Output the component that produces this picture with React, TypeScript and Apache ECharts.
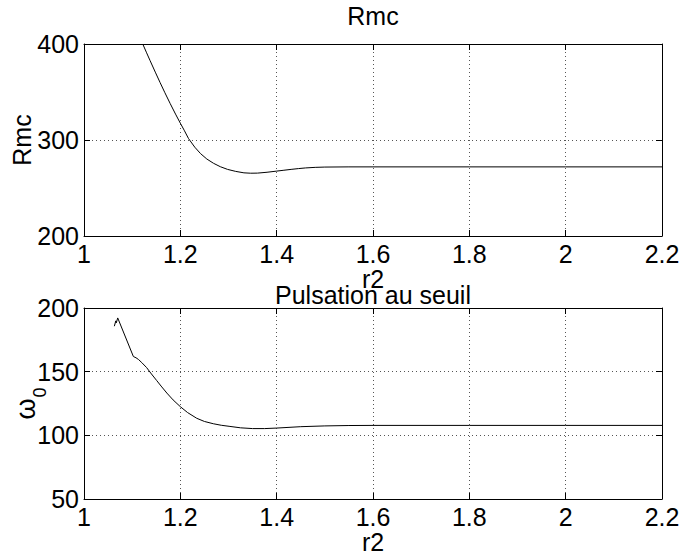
import React, { useEffect, useRef } from "react";
import * as echarts from "echarts";

// ---- data ----
const rmcX = [1.122, 1.13, 1.137, 1.148, 1.158, 1.168, 1.179, 1.19, 1.2, 1.208, 1.217, 1.23, 1.242, 1.255, 1.269, 1.283, 1.298, 1.315, 1.332, 1.346, 1.36, 1.38, 1.4, 1.415, 1.43, 1.445, 1.46, 1.48, 1.5, 1.55, 1.6, 1.8, 2.0, 2.2];
const rmcY = [400, 390.8, 382.9, 370.7, 359.8, 349.2, 337.9, 327.0, 317.5, 310.2, 301.5, 292.5, 285.8, 280.2, 275.7, 272.2, 269.4, 267.3, 265.8, 265.4, 265.5, 266.4, 267.6, 268.5, 269.4, 270.2, 270.9, 271.5, 271.8, 272, 272, 272, 272, 272];

const omegaX = [1.063, 1.066, 1.067, 1.07, 1.1025, 1.108, 1.113, 1.12, 1.13, 1.14, 1.151, 1.16, 1.172, 1.185, 1.2, 1.215, 1.234, 1.25, 1.2685, 1.285, 1.303, 1.325, 1.35, 1.375, 1.4, 1.45, 1.5, 1.55, 1.6, 1.8, 2.0, 2.2];
const omegaY = [185.7, 189.9, 188.3, 192.2, 161.9, 160.9, 159.6, 157.1, 153.2, 148.2, 143, 138.7, 133.2, 127.8, 122.5, 117.9, 113.4, 110.9, 109.1, 107.9, 107, 105.9, 105.3, 105.3, 105.7, 106.8, 107.4, 107.7, 107.8, 107.8, 107.8, 107.8];

const xTickValues = [1, 1.2, 1.4, 1.6, 1.8, 2, 2.2];
const xTickLabels = ["1", "1.2", "1.4", "1.6", "1.8", "2", "2.2"];
const rmcTickValues = [200, 300, 400];
const rmcTickLabels = ["200", "300", "400"];
const omegaTickValues = [50, 100, 150, 200];
const omegaTickLabels = ["50", "100", "150", "200"];

const titles = ["Rmc", "Pulsation au seuil"];
const xName = "r2";

const FONT = "'Liberation Sans', Arial, Helvetica, sans-serif";
const FS = 25;

function lookup(values: number[], labels: string[]) {
  return (v: number) => {
    let best = 0;
    for (let i = 1; i < values.length; i++) {
      if (Math.abs(values[i] - v) < Math.abs(values[best] - v)) best = i;
    }
    return labels[best];
  };
}

export default function App() {
  const ref = useRef<HTMLDivElement>(null);
  useEffect(() => {
    if (!ref.current) return;
    const chart = echarts.init(ref.current, undefined, { renderer: "svg" });
    const black = "#000";
    const grid = { lineStyle: { color: "#555", width: 1, type: [1, 3] as any } };
    const tick = { show: true, inside: true, length: 6, lineStyle: { color: black, width: 1 } };
    const line = { show: true, onZero: false, lineStyle: { color: black, width: 1 } };
    const labelStyle = { color: black, fontSize: FS, fontFamily: FONT };

    const bottomX = (gridIndex: number) => ({
      type: "value",
      gridIndex,
      position: "bottom",
      min: 1,
      max: 2.2,
      interval: 0.2,
      axisLine: line,
      axisTick: tick,
      axisLabel: { ...labelStyle, margin: 5, formatter: lookup(xTickValues, xTickLabels) },
      splitLine: { show: true, showMinLine: false, showMaxLine: false, ...grid },
      name: xName,
      nameLocation: "middle",
      nameGap: 28,
      nameTextStyle: { color: black, fontSize: FS, fontFamily: FONT, lineHeight: 16 },
    });
    const topX = (gridIndex: number) => ({
      type: "value",
      gridIndex,
      position: "top",
      min: 1,
      max: 2.2,
      interval: 0.2,
      axisLine: line,
      axisTick: tick,
      axisLabel: { show: false },
      splitLine: { show: false },
    });
    const rightY = (gridIndex: number, min: number, max: number, interval: number) => ({
      type: "value",
      gridIndex,
      position: "right",
      min,
      max,
      interval,
      axisLine: line,
      axisTick: tick,
      axisLabel: { show: false },
      splitLine: { show: false },
    });

    chart.setOption({
      animation: false,
      backgroundColor: "#fff",
      title: [
        { text: titles[0], left: 373, top: 5, textAlign: "center", padding: 0, textStyle: { color: black, fontSize: FS, lineHeight: 22, fontWeight: "normal", fontFamily: FONT } },
        { text: titles[1], left: 373, top: 287, textAlign: "center", padding: 0, textStyle: { color: black, fontSize: FS, lineHeight: 16, fontWeight: "normal", fontFamily: FONT } },
      ],
      grid: [
        { left: 84, top: 44, width: 578, height: 192, outerBoundsMode: "none", containLabel: false },
        { left: 84, top: 308, width: 578, height: 191, outerBoundsMode: "none", containLabel: false },
      ],
      xAxis: [bottomX(0), topX(0), bottomX(1), topX(1)],
      yAxis: [
        {
          type: "value",
          gridIndex: 0,
          position: "left",
          min: 200,
          max: 400,
          interval: 100,
          axisLine: line,
          axisTick: tick,
          axisLabel: { ...labelStyle, margin: 5, formatter: lookup(rmcTickValues, rmcTickLabels) },
          splitLine: { show: true, showMinLine: false, showMaxLine: false, ...grid },
          name: "Rmc",
          nameLocation: "middle",
          nameRotate: 90,
          nameGap: 52,
          nameMoveOverlap: false,
          nameTextStyle: { color: black, fontSize: FS, fontFamily: FONT, lineHeight: 20 },
        },
        rightY(0, 200, 400, 100),
        {
          type: "value",
          gridIndex: 1,
          position: "left",
          min: 50,
          max: 200,
          interval: 50,
          axisLine: line,
          axisTick: tick,
          axisLabel: { ...labelStyle, margin: 5, formatter: lookup(omegaTickValues, omegaTickLabels) },
          splitLine: { show: true, showMinLine: false, showMaxLine: false, ...grid },
          name: "{w|ω}{s|0}",
          nameLocation: "middle",
          nameRotate: 90,
          nameGap: 46,
          nameMoveOverlap: false,
          nameTextStyle: {
            color: black,
            fontSize: FS,
            fontFamily: FONT,
            rich: {
              w: { fontSize: 27, fontFamily: FONT, color: black, lineHeight: 26, verticalAlign: "top" },
              s: { fontSize: 18, fontFamily: FONT, color: black, lineHeight: 18, padding: [19, 0, 0, 1], verticalAlign: "top" },
            },
          },
        },
        rightY(1, 50, 200, 50),
      ],
      series: [
        {
          type: "line",
          xAxisIndex: 0,
          yAxisIndex: 0,
          data: rmcX.map((x, i) => [x, rmcY[i]]),
          showSymbol: false,
          smooth: false,
          clip: true,
          lineStyle: { color: black, width: 1 },
        },
        {
          type: "line",
          xAxisIndex: 2,
          yAxisIndex: 2,
          data: omegaX.map((x, i) => [x, omegaY[i]]),
          showSymbol: false,
          smooth: false,
          clip: true,
          lineStyle: { color: black, width: 1 },
        },
      ],
    });
    return () => chart.dispose();
  }, []);
  return (
    <div
      ref={ref}
      style={{ position: "fixed", left: 0, top: 0, width: 680, height: 559, background: "#fff" }}
    />
  );
}
